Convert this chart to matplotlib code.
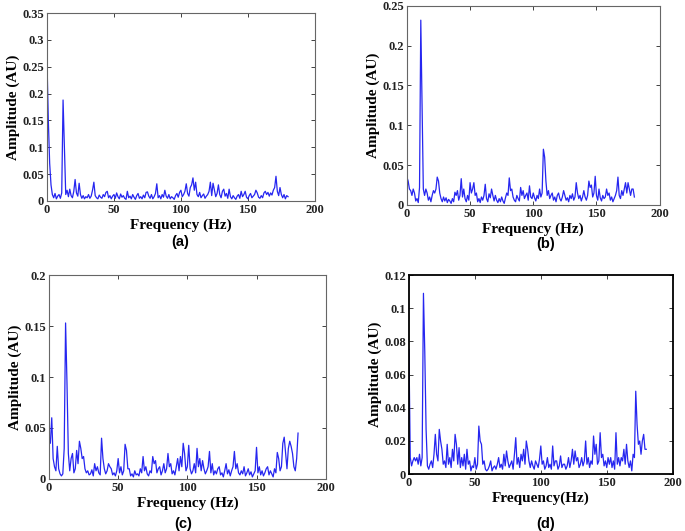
import numpy as np
import matplotlib
matplotlib.use("Agg")
import matplotlib.pyplot as plt

# frequency axis, 1 Hz steps
freq = np.arange(0, 181)

amp_a = [0.26, 0.15, 0.07, 0.03, 0.012, 0.006, 0.014, 0.004, 0.009, 0.012,
         0.005, 0.015, 0.188, 0.10, 0.012, 0.02, 0.008, 0.022, 0.01, 0.006,
         0.018, 0.04, 0.015, 0.009, 0.033, 0.012, 0.005, 0.01, 0.004, 0.008,
         0.006, 0.012, 0.005, 0.009, 0.02, 0.035, 0.01, 0.006, 0.004, 0.011,
         0.007, 0.005, 0.012, 0.008, 0.016, 0.018, 0.006, 0.01, 0.004, 0.009,
         0.012, 0.005, 0.015, 0.008, 0.004, 0.013, 0.007, 0.01, 0.005, 0.003,
         0.018, 0.006, 0.009, 0.004, 0.012, 0.007, 0.003, 0.01, 0.014, 0.005,
         0.008, 0.004, 0.011, 0.006, 0.016, 0.017, 0.009, 0.005, 0.012, 0.004,
         0.008, 0.014, 0.032, 0.006, 0.01, 0.004, 0.012, 0.007, 0.02, 0.009,
         0.005, 0.012, 0.004, 0.008, 0.006, 0.003, 0.01, 0.014, 0.007, 0.016,
         0.02, 0.008, 0.012, 0.018, 0.032, 0.014, 0.009, 0.025, 0.03, 0.043,
         0.02, 0.035, 0.012, 0.008, 0.016, 0.006, 0.01, 0.013, 0.005, 0.009,
         0.012, 0.018, 0.035, 0.01, 0.033, 0.02, 0.008, 0.014, 0.03, 0.012,
         0.006, 0.018, 0.022, 0.009, 0.014, 0.005, 0.022, 0.008, 0.004, 0.01,
         0.006, 0.003, 0.009, 0.012, 0.005, 0.018, 0.008, 0.012, 0.018, 0.007,
         0.004, 0.01, 0.014, 0.006, 0.009, 0.012, 0.02, 0.015, 0.007, 0.005,
         0.01, 0.006, 0.015, 0.018, 0.012, 0.016, 0.009, 0.015, 0.011, 0.02,
         0.025, 0.046, 0.018, 0.01, 0.025, 0.012, 0.006, 0.012, 0.004, 0.01, 0.008]

amp_b = [0.035, 0.03, 0.02, 0.018, 0.012, 0.02, 0.015, 0.005, 0.008, 0.003,
         0.022, 0.232, 0.122, 0.02, 0.012, 0.02, 0.015, 0.006, 0.01, 0.004,
         0.012, 0.018, 0.015, 0.02, 0.035, 0.03, 0.015, 0.008, 0.004, 0.01,
         0.005, 0.009, 0.003, 0.007, 0.005, 0.002, 0.008, 0.004, 0.016, 0.012,
         0.018, 0.006, 0.012, 0.033, 0.01, 0.02, 0.008, 0.004, 0.012, 0.006,
         0.028, 0.015, 0.02, 0.028, 0.012, 0.015, 0.004, 0.008, 0.003, 0.01,
         0.006, 0.012, 0.026, 0.008, 0.004, 0.014, 0.009, 0.02, 0.012, 0.005,
         0.012, 0.006, 0.003, 0.008, 0.004, 0.01, 0.005, 0.002, 0.009, 0.015,
         0.012, 0.034, 0.018, 0.02, 0.01, 0.006, 0.004, 0.012, 0.008, 0.005,
         0.022, 0.012, 0.018, 0.008, 0.012, 0.015, 0.006, 0.024, 0.01, 0.008,
         0.015, 0.009, 0.005, 0.012, 0.008, 0.02, 0.01, 0.015, 0.07, 0.06,
         0.03, 0.012, 0.018, 0.008, 0.012, 0.015, 0.006, 0.01, 0.004, 0.012,
         0.015, 0.008, 0.005, 0.01, 0.018, 0.012, 0.006, 0.009, 0.004, 0.012,
         0.008, 0.014, 0.006, 0.01, 0.028, 0.015, 0.008, 0.012, 0.005, 0.01,
         0.018, 0.01, 0.006, 0.012, 0.03, 0.022, 0.025, 0.01, 0.015, 0.036,
         0.012, 0.006, 0.02, 0.009, 0.005, 0.012, 0.008, 0.01, 0.02, 0.012,
         0.015, 0.006, 0.01, 0.004, 0.008, 0.012, 0.018, 0.035, 0.012, 0.008,
         0.018, 0.012, 0.02, 0.028, 0.015, 0.028, 0.02, 0.012, 0.02, 0.02, 0.01]

amp_c = [0.04, 0.035, 0.06, 0.02, 0.012, 0.008, 0.032, 0.01, 0.005, 0.003,
         0.005, 0.03, 0.153, 0.095, 0.025, 0.008, 0.02, 0.025, 0.006, 0.01,
         0.028, 0.015, 0.037, 0.03, 0.02, 0.022, 0.01, 0.006, 0.008, 0.004,
         0.005, 0.009, 0.003, 0.015, 0.008, 0.012, 0.006, 0.004, 0.04, 0.02,
         0.01, 0.005, 0.008, 0.015, 0.012, 0.01, 0.004, 0.006, 0.003, 0.008,
         0.02, 0.006, 0.012, 0.004, 0.008, 0.034, 0.028, 0.01, 0.01, 0.003,
         0.005, 0.002, 0.008, 0.004, 0.005, 0.003, 0.01, 0.006, 0.022, 0.008,
         0.012, 0.005, 0.003, 0.008, 0.006, 0.022, 0.015, 0.018, 0.006, 0.01,
         0.012, 0.004, 0.008, 0.015, 0.006, 0.01, 0.025, 0.012, 0.015, 0.005,
         0.008, 0.004, 0.012, 0.02, 0.008, 0.022, 0.012, 0.035, 0.025, 0.008,
         0.012, 0.033, 0.01, 0.005, 0.008, 0.015, 0.006, 0.03, 0.012, 0.02,
         0.008, 0.018, 0.01, 0.005, 0.008, 0.012, 0.027, 0.006, 0.015, 0.004,
         0.008, 0.005, 0.01, 0.012, 0.004, 0.006, 0.002, 0.008, 0.015, 0.005,
         0.009, 0.003, 0.008, 0.012, 0.027, 0.01, 0.015, 0.006, 0.004, 0.008,
         0.005, 0.012, 0.003, 0.006, 0.01, 0.004, 0.007, 0.002, 0.005, 0.008,
         0.031, 0.006, 0.012, 0.004, 0.008, 0.003, 0.006, 0.01, 0.012, 0.004,
         0.008, 0.005, 0.002, 0.01, 0.006, 0.026, 0.02, 0.008, 0.012, 0.035,
         0.041, 0.025, 0.01, 0.03, 0.037, 0.032, 0.025, 0.012, 0.008, 0.02, 0.045]

amp_d = [0.075, 0.01, 0.005, 0.008, 0.01, 0.008, 0.01, 0.006, 0.012, 0.005,
         0.01, 0.109, 0.074, 0.027, 0.005, 0.003, 0.006, 0.008, 0.004, 0.012,
         0.024, 0.012, 0.008, 0.027, 0.02, 0.015, 0.006, 0.008, 0.004, 0.018,
         0.006, 0.01, 0.004, 0.015, 0.008, 0.024, 0.018, 0.006, 0.016, 0.004,
         0.01, 0.005, 0.012, 0.003, 0.015, 0.006, 0.008, 0.002, 0.005, 0.004,
         0.01, 0.003, 0.006, 0.029, 0.02, 0.018, 0.006, 0.008, 0.003, 0.002,
         0.003, 0.005, 0.008, 0.002, 0.004, 0.005, 0.003, 0.006, 0.01, 0.004,
         0.006, 0.003, 0.012, 0.005, 0.014, 0.008, 0.004, 0.006, 0.008, 0.003,
         0.012, 0.022, 0.006, 0.01, 0.004, 0.012, 0.008, 0.015, 0.006, 0.02,
         0.015, 0.008, 0.004, 0.008, 0.005, 0.003, 0.008, 0.006, 0.004, 0.009,
         0.017, 0.006, 0.008, 0.003, 0.005, 0.01, 0.004, 0.006, 0.003, 0.017,
         0.005, 0.008, 0.008, 0.003, 0.005, 0.011, 0.004, 0.006, 0.006, 0.003,
         0.005, 0.01, 0.004, 0.008, 0.015, 0.006, 0.014, 0.008, 0.01, 0.004,
         0.006, 0.01, 0.005, 0.008, 0.02, 0.006, 0.01, 0.004, 0.008, 0.006,
         0.023, 0.012, 0.018, 0.006, 0.008, 0.025, 0.01, 0.012, 0.005, 0.008,
         0.004, 0.01, 0.006, 0.01, 0.004, 0.008, 0.003, 0.025, 0.006, 0.01,
         0.005, 0.01, 0.008, 0.015, 0.006, 0.018, 0.008, 0.004, 0.008, 0.002,
         0.012, 0.01, 0.05, 0.03, 0.018, 0.02, 0.012, 0.02, 0.024, 0.015, 0.015]

panel_tags = ["(a)", "(b)", "(c)", "(d)"]
y_tops = [0.35, 0.25, 0.2, 0.12]
y_steps = [0.05, 0.05, 0.05, 0.02]
x_names = ["Frequency (Hz)", "Frequency (Hz)", "Frequency (Hz)", "Frequency(Hz)"]

fig = plt.figure(figsize=(6.85, 5.31), dpi=100)

# axes boxes (left, bottom, width, height)
boxes = [[0.0686, 0.6215, 0.391, 0.354],
         [0.594, 0.614, 0.369, 0.375],
         [0.0715, 0.098, 0.404, 0.384],
         [0.597, 0.107, 0.385, 0.375]]
tag_pos = [(0.263, 0.545), (0.796, 0.540), (0.267, 0.014), (0.796, 0.014)]

serif = "Liberation Serif"
all_amps = [amp_a, amp_b, amp_c, amp_d]

for i in range(4):
    ax = fig.add_axes(boxes[i])
    ax.plot(freq, all_amps[i], color="#2626f0", linewidth=0.9)
    ax.set_xlim(0, 200)
    ax.set_ylim(0, y_tops[i])
    ax.set_xticks(np.arange(0, 201, 50))
    yt = np.round(np.arange(0, y_tops[i] + 1e-9, y_steps[i]), 3)
    ax.set_yticks(yt)
    ax.set_yticklabels(["0" if v == 0 else ("%g" % v) for v in yt])
    ax.tick_params(direction="in", top=True, right=True, length=3,
                   width=0.6, pad=2, labelsize=9, colors="#222222")
    for lab in ax.get_xticklabels() + ax.get_yticklabels():
        lab.set_fontfamily(serif)
        lab.set_fontweight("bold")
    for sp in ax.spines.values():
        if i == 3:
            sp.set_color("black")
            sp.set_linewidth(1.3)
        else:
            sp.set_color("#666666")
            sp.set_linewidth(0.8)
    ax.set_xlabel(x_names[i], fontfamily=serif, fontweight="bold",
                  fontsize=11, labelpad=2)
    ax.set_ylabel("Amplitude (AU)", fontfamily=serif, fontweight="bold",
                  fontsize=11, labelpad=2)
    fig.text(tag_pos[i][0], tag_pos[i][1], panel_tags[i], ha="center",
             va="center", fontfamily="Liberation Sans", fontweight="bold",
             fontsize=10.5)

fig.savefig("out.png", dpi=100)
